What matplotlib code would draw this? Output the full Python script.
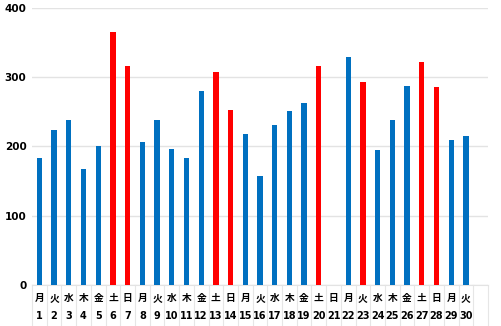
import matplotlib.pyplot as plt
import numpy as np

plt.rcParams['font.family'] = ['Noto Sans CJK JP', 'DejaVu Sans']

# data
days = [str(d) for d in range(1, 31)] + [""]
weekdays = ["月", "火", "水", "木", "金", "土", "日"] * 5
weekdays = weekdays[:30] + [""]
values = [183, 224, 238, 167, 201, 365, 316, 206, 238, 196,
          183, 280, 308, 253, 218, 158, 231, 251, 263, 316,
          0, 329, 293, 195, 238, 288, 322, 286, 210, 215, 0]
holidays = [6, 7, 13, 14, 20, 21, 23, 27, 28]

colors = ["#ff0000" if (i + 1) in holidays else "#0070c0" for i in range(len(values))]

fig = plt.figure(figsize=(5.01, 3.26), dpi=100)
ax = fig.add_axes([0.0639, 0.1258, 0.9101, 0.8497])

x = np.arange(len(values))
ax.bar(x, values, width=0.36, color=colors, zorder=3)

ax.set_xlim(-0.5, len(values) - 0.5)
ax.set_ylim(0, 400)
ax.set_yticks([0, 100, 200, 300, 400])
ax.set_yticklabels(["0", "100", "200", "300", "400"], fontsize=7.5, fontweight="bold",
                   family="DejaVu Sans")
ax.tick_params(axis="y", length=0, pad=4)
ax.set_xticks([])
ax.grid(axis="y", color="#e3e3e3", linewidth=1, zorder=0)

for s in ["top", "right", "left"]:
    ax.spines[s].set_visible(False)
ax.spines["bottom"].set_color("#e3e3e3")

# separators and two label rows
trans = ax.get_xaxis_transform()
for b in np.arange(-0.5, len(values), 1.0):
    ax.plot([b, b], [0, -0.15], color="#e6e6e6", lw=0.8, transform=trans, clip_on=False)
for i in range(len(values)):
    ax.text(i, -0.047, weekdays[i], transform=trans, ha="center", va="center",
            fontsize=7, fontweight="bold")
    ax.text(i, -0.112, days[i], transform=trans, ha="center", va="center",
            fontsize=7, fontweight="bold", family="DejaVu Sans")

plt.savefig("out.png", dpi=100)
